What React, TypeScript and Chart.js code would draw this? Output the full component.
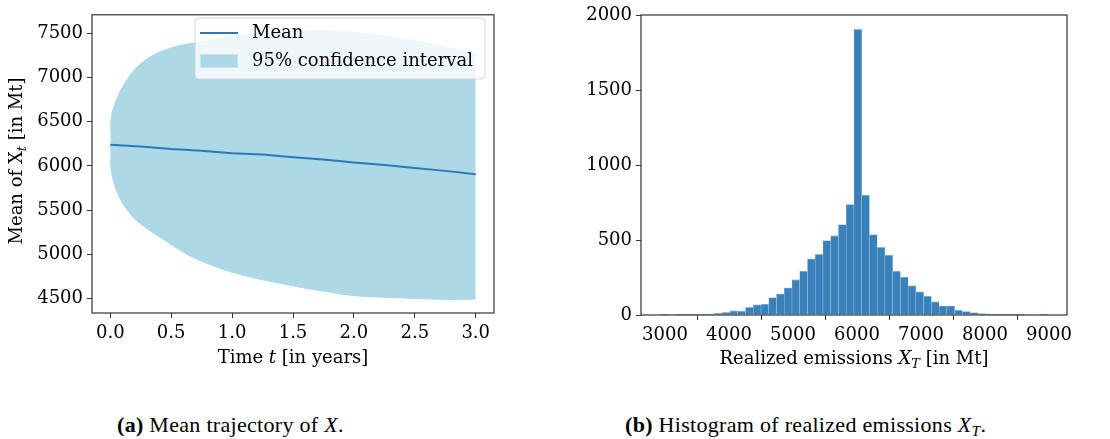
import React, { useEffect, useRef } from "react";
import { Chart, registerables } from "chart.js";

Chart.register(...registerables);

// ---------- Data: (a) mean trajectory ----------
const bandTimes = [0, 0.01, 0.03, 0.06, 0.1, 0.15, 0.2, 0.3, 0.4, 0.5, 0.6, 0.75, 0.9, 1.0, 1.2, 1.4, 1.6, 1.8, 2.0, 2.2, 2.4, 2.6, 2.8, 3.0];
const upperCI = [6420, 6560, 6670, 6780, 6890, 7000, 7090, 7210, 7285, 7335, 7370, 7405, 7445, 7470, 7500, 7520, 7530, 7530, 7510, 7480, 7440, 7390, 7330, 7265];
const lowerCI = [6060, 5930, 5810, 5690, 5580, 5480, 5400, 5290, 5200, 5110, 5020, 4920, 4840, 4795, 4725, 4670, 4615, 4570, 4530, 4515, 4505, 4495, 4485, 4493];
const meanTimes = [0, 0.25, 0.5, 0.75, 1, 1.25, 1.5, 1.75, 2, 2.25, 2.5, 2.75, 3];
const meanValues = [6240, 6220, 6191, 6172, 6143, 6128, 6098, 6072, 6039, 6009, 5976, 5943, 5906];
const leftXTicks = [0, 0.5, 1, 1.5, 2, 2.5, 3];
const leftXTickLabels = ["0.0", "0.5", "1.0", "1.5", "2.0", "2.5", "3.0"];
const leftYTicks = [4500, 5000, 5500, 6000, 6500, 7000, 7500];
const leftYTickLabels = ["4500", "5000", "5500", "6000", "6500", "7000", "7500"];

// ---------- Data: (b) histogram ----------
const binStart = 2927;
const binWidth = 121;
const binCounts = [
  1, 0, 1, 1, 2, 4, 7, 13, 18, 29,
  27, 51, 69, 73, 116, 142, 182, 236, 294, 376,
  405, 498, 530, 605, 739, 1910, 801, 538, 452, 400,
  294, 254, 196, 156, 127, 89, 62, 62, 33, 24,
  16, 9, 7, 4, 2, 1, 1, 0, 0, 1,
];
const rightXTicks = [3000, 4000, 5000, 6000, 7000, 8000, 9000];
const rightXTickLabels = ["3000", "4000", "5000", "6000", "7000", "8000", "9000"];
const rightYTicks = [0, 500, 1000, 1500, 2000];
const rightYTickLabels = ["0", "500", "1000", "1500", "2000"];

const FONT = "'DejaVu Serif', serif";
const FS = 18;
const BAND = "#add8e6";
const MEAN = "#2a78b8";
const BAR = "#3a80bb";
const BAR_EDGE = "#a9cfe6";

type Part = { t: string; italic?: boolean; sub?: boolean };

function drawRich(ctx: CanvasRenderingContext2D, parts: Part[], cx: number, cy: number, size: number, rotate: boolean) {
  ctx.save();
  ctx.translate(cx, cy);
  if (rotate) ctx.rotate(-Math.PI / 2);
  const fontFor = (p: Part) => `${p.italic ? "italic " : ""}${p.sub ? Math.round(size * 0.7) : size}px ${FONT}`;
  let total = 0;
  for (const p of parts) {
    ctx.font = fontFor(p);
    total += ctx.measureText(p.t).width;
  }
  let x = -total / 2;
  ctx.textBaseline = "middle";
  ctx.textAlign = "left";
  ctx.fillStyle = "#000";
  for (const p of parts) {
    ctx.font = fontFor(p);
    ctx.fillText(p.t, x, p.sub ? size * 0.3 : 0);
    x += ctx.measureText(p.t).width;
  }
  ctx.restore();
}

const framePlugin = {
  id: "frame",
  afterDatasetsDraw(chart: any) {
    const { ctx, chartArea: a } = chart;
    ctx.save();
    ctx.strokeStyle = "#333";
    ctx.lineWidth = 1.2;
    ctx.strokeRect(a.left, a.top, a.right - a.left, a.bottom - a.top);
    ctx.restore();
  },
};

function makeTitlePlugin(items: { parts: Part[]; x: number; y: number; rotate: boolean }[]) {
  return {
    id: "richTitles",
    afterDraw(chart: any) {
      for (const it of items) drawRich(chart.ctx, it.parts, it.x, it.y, FS, it.rotate);
    },
  };
}

const legendPlugin = {
  id: "customLegend",
  afterDraw(chart: any) {
    const ctx: CanvasRenderingContext2D = chart.ctx;
    ctx.save();
    const x = 195, y = 18, w = 290, h = 61, r = 4;
    ctx.beginPath();
    ctx.moveTo(x + r, y);
    ctx.arcTo(x + w, y, x + w, y + h, r);
    ctx.arcTo(x + w, y + h, x, y + h, r);
    ctx.arcTo(x, y + h, x, y, r);
    ctx.arcTo(x, y, x + w, y, r);
    ctx.closePath();
    ctx.fillStyle = "rgba(255,255,255,0.8)";
    ctx.fill();
    ctx.strokeStyle = "#d6d6d6";
    ctx.lineWidth = 1;
    ctx.stroke();
    // Mean handle
    ctx.strokeStyle = MEAN;
    ctx.lineWidth = 2;
    ctx.beginPath();
    ctx.moveTo(200, 33);
    ctx.lineTo(238, 33);
    ctx.stroke();
    // band handle
    ctx.fillStyle = BAND;
    ctx.fillRect(200, 54, 38, 14);
    ctx.strokeStyle = "#c6e4ee";
    ctx.lineWidth = 1;
    ctx.strokeRect(200.5, 54.5, 37, 13);
    ctx.fillStyle = "#000";
    ctx.font = `${FS}px ${FONT}`;
    ctx.textBaseline = "middle";
    ctx.textAlign = "left";
    ctx.fillText("Mean", 252, 33);
    ctx.fillText("95% confidence interval", 252, 61);
    ctx.restore();
  },
};

function axisCommon(tickValues: number[], tickLabels: string[], padding: number) {
  return {
    grid: { display: true, drawOnChartArea: false, drawTicks: true, tickLength: 5, color: "#333", lineWidth: 1 },
    border: { display: false },
    afterBuildTicks: (scale: any) => {
      scale.ticks = tickValues.map((v) => ({ value: v }));
    },
    ticks: {
      autoSkip: false,
      maxRotation: 0,
      minRotation: 0,
      padding,
      color: "#000",
      font: { family: FONT, size: FS },
      callback: (v: any) => {
        const i = tickValues.indexOf(Number(v));
        return i >= 0 ? tickLabels[i] : "";
      },
    },
  };
}

export default function App() {
  const leftRef = useRef<HTMLCanvasElement>(null);
  const rightRef = useRef<HTMLCanvasElement>(null);

  useEffect(() => {
    const left = new Chart(leftRef.current as HTMLCanvasElement, {
      type: "line",
      data: {
        datasets: [
          {
            label: "Mean",
            data: meanTimes.map((t, i) => ({ x: t, y: meanValues[i] })),
            borderColor: MEAN,
            borderWidth: 2,
            pointRadius: 0,
            fill: false,
          },
          {
            label: "upper",
            data: bandTimes.map((t, i) => ({ x: t, y: upperCI[i] })),
            borderColor: BAND,
            backgroundColor: BAND,
            borderWidth: 1,
            pointRadius: 0,
            cubicInterpolationMode: "monotone",
            fill: "+1",
          },
          {
            label: "lower",
            data: bandTimes.map((t, i) => ({ x: t, y: lowerCI[i] })),
            borderColor: BAND,
            borderWidth: 1,
            pointRadius: 0,
            cubicInterpolationMode: "monotone",
            fill: false,
          },
        ],
      } as any,
      options: {
        animation: false,
        responsive: false,
        layout: { padding: { left: 0, top: 8, right: 61, bottom: 0 } },
        plugins: { legend: { display: false }, tooltip: { enabled: false } },
        scales: {
          x: {
            type: "linear",
            min: -0.15,
            max: 3.15,
            ...axisCommon(leftXTicks, leftXTickLabels, 5),
            afterFit: (s: any) => { s.height = 67; },
          },
          y: {
            type: "linear",
            min: 4334,
            max: 7710,
            ...axisCommon(leftYTicks, leftYTickLabels, 4),
            afterFit: (s: any) => { s.width = 92; },
          },
        },
      } as any,
      plugins: [
        framePlugin,
        legendPlugin,
        makeTitlePlugin([
          { parts: [{ t: "Time " }, { t: "t", italic: true }, { t: " [in years]" }], x: 293, y: 358, rotate: false },
          { parts: [{ t: "Mean of X" }, { t: "t", italic: true, sub: true }, { t: " [in Mt]" }], x: 17, y: 161, rotate: true },
        ]),
      ],
    });

    const right = new Chart(rightRef.current as HTMLCanvasElement, {
      type: "bar",
      data: {
        datasets: [
          {
            label: "count",
            data: binCounts.map((c, i) => ({ x: binStart + binWidth * (i + 0.5), y: c })),
            backgroundColor: BAR,
            borderColor: BAR_EDGE,
            borderWidth: { top: 0.8, left: 0.5, right: 0.5, bottom: 0 },
            borderSkipped: false,
            barPercentage: 1,
            categoryPercentage: 1,
          },
        ],
      } as any,
      options: {
        animation: false,
        responsive: false,
        layout: { padding: { left: 0, top: 15, right: 43, bottom: 0 } },
        plugins: { legend: { display: false }, tooltip: { enabled: false } },
        scales: {
          x: {
            type: "linear",
            min: 2625,
            max: 9281,
            offset: false,
            ...axisCommon(rightXTicks, rightXTickLabels, 5),
            afterFit: (s: any) => { s.height = 65; },
          },
          y: {
            type: "linear",
            min: 0,
            max: 2005,
            ...axisCommon(rightYTicks, rightYTickLabels, 4),
            afterFit: (s: any) => { s.width = 86; },
          },
        },
      } as any,
      plugins: [
        framePlugin,
        makeTitlePlugin([
          {
            parts: [
              { t: "Realized emissions " },
              { t: "X", italic: true },
              { t: "T", italic: true, sub: true },
              { t: " [in Mt]" },
            ],
            x: 299,
            y: 359,
            rotate: false,
          },
        ]),
      ],
    });

    return () => {
      left.destroy();
      right.destroy();
    };
  }, []);

  const captionStyle: React.CSSProperties = {
    position: "absolute",
    top: 414,
    fontFamily: "'Liberation Serif', serif",
    fontSize: 22,
    letterSpacing: "0.3px",
    lineHeight: "22px",
    whiteSpace: "nowrap",
    color: "#000",
  };
  const subStyle: React.CSSProperties = { fontSize: "0.7em", verticalAlign: "-0.25em", lineHeight: 0 };

  return (
    <div style={{ position: "fixed", left: 0, top: 0, width: 1110, height: 439, background: "#fff", overflow: "hidden" }}>
      <canvas ref={leftRef} width={555} height={380} style={{ position: "absolute", left: 0, top: 0, width: 555, height: 380 }} />
      <canvas ref={rightRef} width={555} height={380} style={{ position: "absolute", left: 555, top: 0, width: 555, height: 380 }} />
      <div style={{ ...captionStyle, left: 117 }}>
        <b>(a)</b> Mean trajectory of <i>X</i>.
      </div>
      <div style={{ ...captionStyle, left: 625 }}>
        <b>(b)</b> Histogram of realized emissions <i>X<sub style={subStyle}>T</sub></i>.
      </div>
    </div>
  );
}
